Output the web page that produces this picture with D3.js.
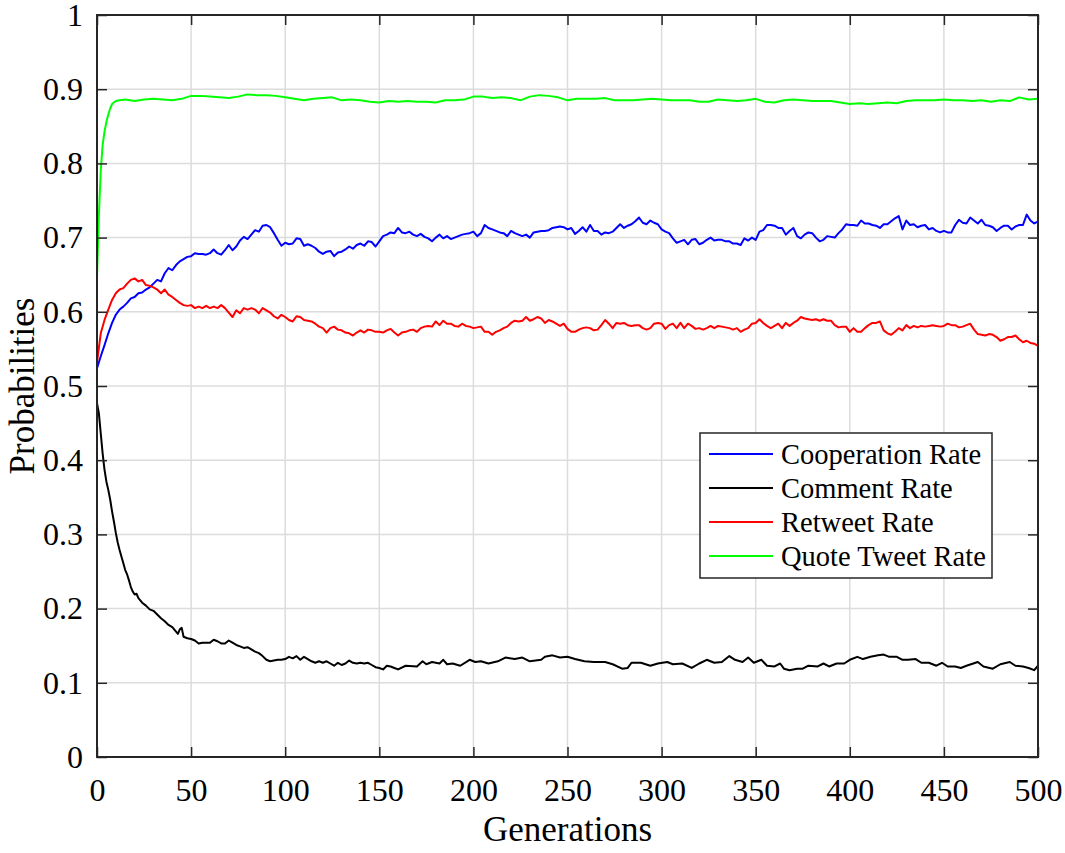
<!DOCTYPE html>
<html><head><meta charset="utf-8">
<script src="https://cdn.jsdelivr.net/npm/d3@7"></script>
<style>body{margin:0;background:#fff}svg{display:block}</style>
</head><body><svg id="c" width="1065" height="853"></svg>
<script>
// ---------- data ----------
const xTicks = [0, 50, 100, 150, 200, 250, 300, 350, 400, 450, 500];
const yTicks = [0, 0.1, 0.2, 0.3, 0.4, 0.5, 0.6, 0.7, 0.8, 0.9, 1];
const xLabel = "Generations";
const yLabel = "Probabilities";
const seriesNames = ["Cooperation Rate", "Comment Rate", "Retweet Rate", "Quote Tweet Rate"];
const seriesColors = ["#0000ff", "#000000", "#ff0000", "#00ff00"];

// generations sampled every 2 for cooperation / retweet
const gensEvery2 = d3.range(0, 501, 2);
const cooperationRate = [
0.524,0.540,0.555,0.571,0.585,0.596,0.603,0.607,0.612,0.618,0.620,0.625,0.626,0.630,0.633,0.638,0.643,0.641,0.652,0.659,
0.656,0.663,0.668,0.671,0.674,0.675,0.679,0.678,0.678,0.677,0.679,0.684,0.679,0.677,0.683,0.690,0.683,0.688,0.696,0.701,
0.698,0.704,0.710,0.708,0.716,0.717,0.714,0.706,0.697,0.689,0.693,0.691,0.692,0.699,0.698,0.689,0.691,0.689,0.686,0.681,
0.678,0.681,0.682,0.675,0.680,0.681,0.684,0.688,0.685,0.690,0.692,0.689,0.695,0.694,0.688,0.695,0.702,0.704,0.707,0.706,
0.713,0.707,0.706,0.708,0.704,0.702,0.705,0.701,0.699,0.695,0.700,0.704,0.699,0.702,0.698,0.700,0.702,0.704,0.705,0.706,
0.708,0.702,0.706,0.717,0.713,0.711,0.709,0.707,0.706,0.702,0.709,0.706,0.704,0.702,0.704,0.700,0.707,0.708,0.709,0.709,
0.710,0.713,0.714,0.715,0.714,0.711,
0.713,0.705,0.709,0.714,0.708,0.717,0.709,0.709,0.704,0.707,0.706,0.708,0.713,0.718,0.713,0.716,0.718,0.722,0.727,0.720,
0.718,0.723,0.720,0.718,0.711,0.708,0.706,0.699,0.693,0.695,0.697,0.691,0.697,0.698,0.691,0.693,0.697,0.700,0.696,0.697,
0.697,0.695,0.695,0.692,0.692,0.690,0.699,0.696,0.700,0.697,0.708,0.710,0.717,0.717,0.716,0.713,0.713,0.704,0.709,0.713,
0.702,0.699,0.704,0.707,0.706,0.700,0.695,0.697,0.702,0.701,0.700,0.706,0.711,0.718,0.717,0.717,0.716,0.723,0.719,0.719,
0.717,0.716,0.713,0.718,0.718,0.722,0.726,0.729,0.711,0.723,0.717,0.718,0.714,0.716,0.717,0.711,0.713,0.709,0.707,0.709,
0.707,0.707,0.717,0.724,0.720,0.719,0.727,0.723,0.719,0.724,0.717,0.716,0.714,0.709,0.713,0.716,0.716,0.711,0.715,0.717,
0.717,0.731,0.723,0.719,0.722];
const retweetRate = [
0.532,0.571,0.589,0.603,0.616,0.625,0.630,0.632,0.638,0.643,0.645,0.641,0.643,0.636,0.635,0.633,0.630,0.625,0.630,0.623,
0.620,0.616,0.612,0.609,0.608,0.609,0.605,0.607,0.605,0.608,0.605,0.607,0.605,0.609,0.605,0.599,0.593,0.602,0.598,0.605,
0.603,0.605,0.603,0.598,0.605,0.602,0.599,0.594,0.591,0.596,0.593,0.589,0.587,0.594,0.593,0.589,0.588,0.587,0.584,0.580,
0.578,0.572,0.578,0.580,0.576,0.575,0.572,0.571,0.568,0.572,0.575,0.572,0.576,0.575,0.573,0.573,0.572,0.575,0.577,0.572,
0.568,0.572,0.573,0.575,0.576,0.573,0.578,0.580,0.581,0.580,0.587,0.582,0.588,0.584,0.584,0.581,0.580,0.584,0.581,0.580,
0.578,0.579,0.580,0.573,0.573,0.569,0.573,0.575,0.578,0.580,0.585,0.588,0.587,0.588,0.593,0.588,0.590,0.593,0.591,0.585,
0.589,0.587,0.584,0.581,0.584,0.577,
0.573,0.573,0.576,0.578,0.579,0.578,0.575,0.576,0.582,0.589,0.584,0.578,0.585,0.584,0.585,0.582,0.581,0.582,0.582,0.578,
0.576,0.578,0.584,0.585,0.584,0.577,0.582,0.584,0.578,0.585,0.578,0.584,0.581,0.577,0.578,0.576,0.578,0.581,0.578,0.581,
0.580,0.579,0.578,0.576,0.578,0.573,0.576,0.578,0.584,0.585,0.590,0.585,0.581,0.578,0.581,0.584,0.578,0.585,0.581,0.585,
0.588,0.593,0.591,0.590,0.589,0.590,0.588,0.590,0.588,0.588,0.582,0.579,0.580,0.580,0.573,0.578,0.573,0.573,0.578,0.582,
0.585,0.585,0.587,0.575,0.571,0.569,0.573,0.578,0.575,0.582,0.578,0.581,0.579,0.581,0.580,0.581,0.582,0.581,0.580,0.581,
0.584,0.582,0.582,0.579,0.580,0.582,0.584,0.576,0.570,0.569,0.568,0.570,0.569,0.566,0.561,0.563,0.566,0.566,0.568,0.563,
0.559,0.561,0.558,0.557,0.554];

const commentGens = [0,1,2,3,4,5,6,7,8,9,10,11,12,13,14,15,16,17,18,19,20,21,22,24,26,28,30,32,34,36,38,40,42,43,44,45,46,48,50,
52,54,56,58,60,62,64,66,68,70,72,74,76,78,80,82,84,86,88,90,92,94,96,98,100,102,104,106,108,110,112,114,116,118,120,122,124,
126,128,130,132,134,136,138,140,142,144,146,148,150,152,154,156,158,160,164,170,173,175,178,182,184,186,189,193,198,201,204,208,
213,217,222,226,230,236,238,242,246,250,254,259,264,270,274,279,282,284,289,294,298,303,306,311,316,320,324,328,332,336,339,343,
346,349,353,356,360,363,365,368,372,375,378,383,386,389,393,397,400,404,407,411,415,418,421,425,428,431,435,438,442,446,449,452,
456,459,462,468,471,476,480,485,488,492,495,498,500];
const commentRate = [0.477,0.463,0.436,0.409,0.387,0.371,0.360,0.347,0.331,0.317,0.302,0.289,0.279,0.270,0.261,0.252,0.246,0.238,
0.229,0.223,0.219,0.220,0.214,0.208,0.204,0.199,0.197,0.192,0.187,0.183,0.178,0.175,0.169,0.166,0.172,0.174,0.162,0.160,0.159,
0.157,0.153,0.154,0.154,0.154,0.158,0.156,0.153,0.153,0.157,0.154,0.151,0.149,0.147,0.148,0.145,0.142,0.140,0.136,0.131,0.129,
0.130,0.131,0.131,0.132,0.135,0.133,0.136,0.131,0.135,0.132,0.129,0.127,0.129,0.127,0.129,0.126,0.123,0.127,0.124,0.126,0.130,
0.127,0.126,0.127,0.126,0.127,0.124,0.121,0.120,0.118,0.123,0.122,0.120,0.118,0.123,0.122,0.129,0.125,0.128,0.126,0.131,0.125,
0.126,0.123,0.131,0.128,0.129,0.126,0.129,0.134,0.132,0.134,0.129,0.131,0.135,0.137,0.134,0.135,0.132,0.129,0.128,0.128,0.125,
0.119,0.120,0.127,0.127,0.123,0.126,0.128,0.125,0.126,0.120,0.126,0.131,0.127,0.128,0.136,0.131,0.128,0.134,0.127,0.131,0.123,
0.122,0.126,0.119,0.117,0.119,0.119,0.123,0.122,0.126,0.122,0.126,0.126,0.131,0.135,0.132,0.135,0.137,0.138,0.135,0.135,0.131,
0.131,0.132,0.127,0.127,0.123,0.127,0.122,0.122,0.120,0.123,0.128,0.122,0.119,0.125,0.128,0.123,0.122,0.120,0.117,0.123];

const quoteGens = [0,1,2,3,4,5,6,7,8,10,12,15,20,25,30,35,40,45,50,55,60,65,70,75,80,85,90,95,100,105,110,115,120,125,130,135,140,
145,150,155,160,165,170,175,180,185,190,195,200,205,210,215,220,225,230,235,240,245,250,255,260,265,270,275,280,285,290,295,300,
305,310,315,320,325,330,335,340,345,350,355,360,365,370,375,380,385,390,395,400,405,410,415,420,425,430,435,440,445,450,455,460,
465,470,475,480,485,490,495,500];
const quoteTweetRate = [0.648,0.730,0.790,0.825,0.843,0.856,0.866,0.874,0.880,0.884,0.885,0.886,0.884,0.886,0.887,0.886,0.885,
0.887,0.891,0.891,0.890,0.889,0.888,0.890,0.893,0.892,0.892,0.891,0.889,0.887,0.885,0.887,0.888,0.889,0.885,0.886,0.885,0.883,
0.882,0.884,0.883,0.884,0.883,0.883,0.882,0.885,0.885,0.886,0.890,0.890,0.888,0.889,0.888,0.885,0.890,0.892,0.891,0.889,0.885,
0.887,0.887,0.887,0.888,0.885,0.885,0.885,0.886,0.887,0.886,0.885,0.885,0.885,0.883,0.883,0.886,0.885,0.884,0.885,0.887,0.883,
0.882,0.885,0.886,0.885,0.884,0.884,0.884,0.882,0.880,0.881,0.880,0.881,0.882,0.881,0.884,0.885,0.885,0.885,0.886,0.885,0.885,
0.884,0.885,0.883,0.885,0.884,0.889,0.886,0.887];

// ---------- chart ----------
const W = 1065, H = 853;
const m = {left: 97, right: W - 1038, top: 15, bottom: H - 757};
const iw = W - m.left - m.right, ih = H - m.top - m.bottom;
const svg = d3.select("#c");
const FONT = "'Liberation Serif','Times New Roman',serif";
const AX = "#262626";

const x = d3.scaleLinear().domain([0, 500]).range([0, iw]);
const y = d3.scaleLinear().domain([0, 1]).range([ih, 0]);
const g = svg.append("g").attr("transform", `translate(${m.left},${m.top})`);

// grid
g.append("g").selectAll("line").data(xTicks).join("line")
  .attr("x1", d => x(d)).attr("x2", d => x(d)).attr("y1", 0).attr("y2", ih)
  .attr("stroke", "#dcdcdc").attr("stroke-width", 1.5);
g.append("g").selectAll("line").data(yTicks).join("line")
  .attr("y1", d => y(d)).attr("y2", d => y(d)).attr("x1", 0).attr("x2", iw)
  .attr("stroke", "#dcdcdc").attr("stroke-width", 1.5);

// series
const series = [
  {gens: gensEvery2, vals: cooperationRate},
  {gens: commentGens, vals: commentRate},
  {gens: gensEvery2, vals: retweetRate},
  {gens: quoteGens, vals: quoteTweetRate}
];
const line = d3.line().x(d => x(d[0])).y(d => y(d[1]));
series.forEach((s, i) => {
  g.append("path").datum(s.gens.map((gg, k) => [gg, s.vals[k]]))
    .attr("d", line).attr("fill", "none")
    .attr("stroke", seriesColors[i]).attr("stroke-width", 2)
    .attr("stroke-linejoin", "round");
});

// axes (inward ticks, mirrored)
const tl = 10;
function styleAxis(sel) {
  sel.select(".domain").remove();
  sel.selectAll(".tick line").attr("stroke", AX).attr("stroke-width", 1.5);
  sel.selectAll("text").attr("font-family", FONT).attr("font-size", 32).attr("fill", "#000");
}
g.append("g").attr("transform", `translate(0,${ih})`)
  .call(d3.axisBottom(x).tickValues(xTicks).tickSizeInner(-tl).tickSizeOuter(0).tickPadding(21).tickFormat(d3.format("d")))
  .call(styleAxis);
g.append("g")
  .call(d3.axisTop(x).tickValues(xTicks).tickSizeInner(-tl).tickSizeOuter(0).tickFormat(""))
  .call(styleAxis);
g.append("g")
  .call(d3.axisLeft(y).tickValues(yTicks).tickSizeInner(-tl).tickSizeOuter(0).tickPadding(14).tickFormat(d => d3.format("~g")(d)))
  .call(styleAxis);
g.append("g").attr("transform", `translate(${iw},0)`)
  .call(d3.axisRight(y).tickValues(yTicks).tickSizeInner(-tl).tickSizeOuter(0).tickFormat(""))
  .call(styleAxis);

// box
g.append("rect").attr("x", 0).attr("y", 0).attr("width", iw).attr("height", ih)
  .attr("fill", "none").attr("stroke", AX).attr("stroke-width", 2);

// axis labels
svg.append("text").attr("x", m.left + iw / 2).attr("y", 841)
  .attr("text-anchor", "middle").attr("font-family", FONT).attr("font-size", 35).text(xLabel);
svg.append("text").attr("transform", `translate(34,${m.top + ih / 2}) rotate(-90)`)
  .attr("text-anchor", "middle").attr("font-family", FONT).attr("font-size", 35).text(yLabel);

// legend
const lg = svg.append("g").attr("transform", "translate(700,433)");
lg.append("rect").attr("width", 292).attr("height", 145).attr("fill", "#fff")
  .attr("stroke", AX).attr("stroke-width", 1.5);
seriesNames.forEach((name, i) => {
  const yy = 21 + i * 34;
  lg.append("line").attr("x1", 9).attr("x2", 73).attr("y1", yy).attr("y2", yy)
    .attr("stroke", seriesColors[i]).attr("stroke-width", 2);
  lg.append("text").attr("x", 81).attr("y", yy).attr("dy", "0.35em")
    .attr("font-family", FONT).attr("font-size", 28.5).text(name);
});
</script></body></html>
